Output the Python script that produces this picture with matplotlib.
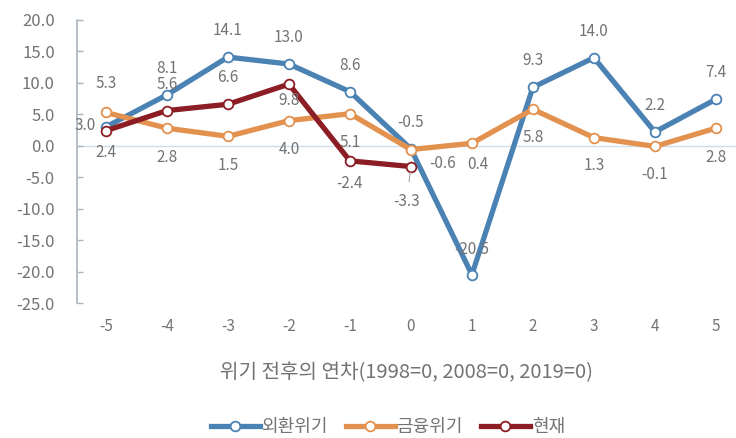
import matplotlib
matplotlib.use("Agg")
import matplotlib.pyplot as plt
from matplotlib.lines import Line2D

plt.rcParams['font.family'] = ['Noto Sans CJK KR', 'DejaVu Sans']

years = [-5, -4, -3, -2, -1, 0, 1, 2, 3, 4, 5]
fx_crisis = [3.0, 8.1, 14.1, 13.0, 8.6, -0.5, -20.5, 9.3, 14.0, 2.2, 7.4]
fin_crisis = [5.3, 2.8, 1.5, 4.0, 5.1, -0.6, 0.4, 5.8, 1.3, -0.1, 2.8]
current_years = [-5, -4, -3, -2, -1, 0]
current = [2.4, 5.6, 6.6, 9.8, -2.4, -3.3]

series_names = ['외환위기', '금융위기', '현재']
colors = ['#4b82b4', '#e3914f', '#8c1d24']
text_color = '#737373'

# data label offsets in points (dx, dy)
fx_offsets = [(-15, 1), (0, 19), (0, 19), (0, 19), (0, 19), (0, 19),
              (0, 18), (0, 19), (0, 19), (0, 19), (0, 19)]
fin_offsets = [(0, 21), (0, -21), (0, -21), (0, -21), (0, -21), (23, -10),
               (4, -15), (0, -20), (0, -20), (0, -20), (0, -21)]
cur_offsets = [(0, -16), (0, 19), (0, 19), (0, -12), (0, -16), (-3, -25)]

fig = plt.figure(figsize=(7.36, 4.38), dpi=100)
ax = fig.add_axes([77 / 736, 1 - 303 / 438, 1 - 77 / 736, (303 - 20) / 438])

ax.axhline(0, color='#cfdcea', lw=1.0, zorder=1)

for xs, ys, c, offs, lead in [(years, fx_crisis, colors[0], fx_offsets, False),
                              (years, fin_crisis, colors[1], fin_offsets, False),
                              (current_years, current, colors[2], cur_offsets, True)]:
    ax.plot(xs, ys, color=c, lw=3.8, marker='o', ms=7, mfc='white',
            mec=c, mew=1.3, zorder=3, solid_joinstyle='round')
    for i, (x, y, (dx, dy)) in enumerate(zip(xs, ys, offs)):
        arrow = None
        if lead and i == len(xs) - 1:
            arrow = dict(arrowstyle='-', color='#9a9a9a', lw=0.7, shrinkA=6, shrinkB=4)
        ax.annotate(f'{y:.1f}', (x, y), xytext=(dx, dy), textcoords='offset points',
                    ha='center', va='center', fontsize=11, color=text_color,
                    zorder=4, arrowprops=arrow)

ax.set_xlim(-5.475, 5.33)
ax.set_ylim(-25, 20)
ax.set_yticks(range(-25, 21, 5))
ax.set_yticklabels([f'{v:.1f}' for v in range(-25, 21, 5)])
ax.set_xticks(years)
ax.set_xticklabels([str(v) for v in years])

for s in ['top', 'right', 'bottom']:
    ax.spines[s].set_visible(False)
ax.spines['left'].set_color('#a9b4bf')
ax.spines['left'].set_linewidth(1.2)
ax.tick_params(axis='y', colors=text_color, labelsize=12, length=4, direction='in',
               color='#a9b4bf', width=1.0, pad=16)
ax.tick_params(axis='x', colors=text_color, labelsize=11, length=0, pad=11)

ax.set_xlabel('위기 전후의 연차(1998=0, 2008=0, 2019=0)', fontsize=14.5,
              color=text_color, labelpad=19)

handles = [Line2D([0], [0], color=c, lw=3.8, marker='o', ms=7, mfc='white', mec=c, mew=1.3)
           for c in colors]
fig.legend(handles, series_names, loc='center', bbox_to_anchor=(0.527, 1 - 427 / 438),
           ncol=3, frameon=False, fontsize=13, labelcolor=text_color,
           handlelength=2.7, columnspacing=1.0, handletextpad=0.1, borderpad=0.2)

fig.savefig('out.png', dpi=100)
